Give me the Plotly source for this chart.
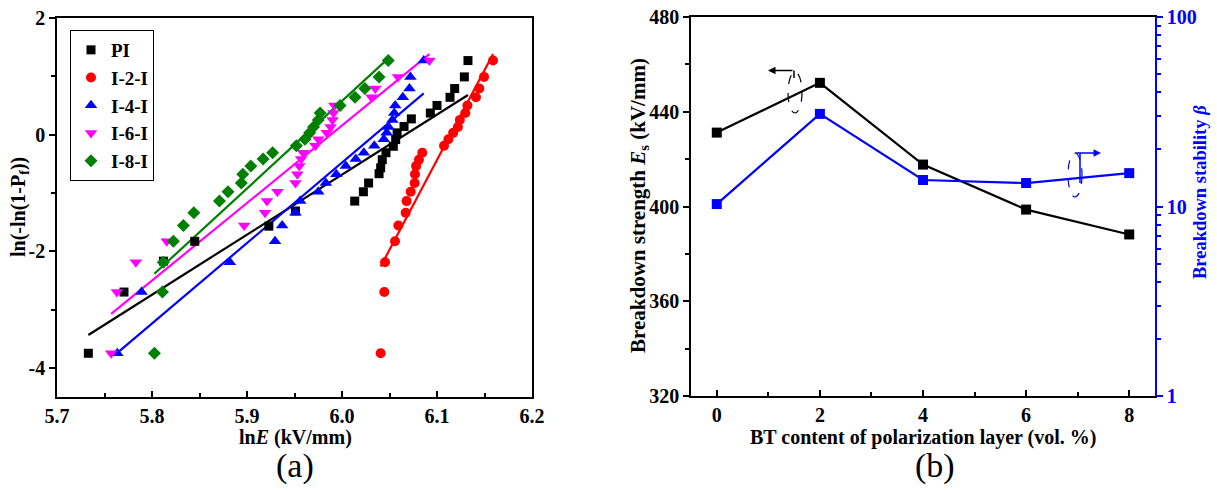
import numpy as np
import plotly.graph_objects as go

# ---------------- data: panel (a) Weibull plot ----------------
series_names = ["PI", "I-2-I", "I-4-I", "I-6-I", "I-8-I"]

lnF_PI = [-3.75, -2.70, -2.17, -1.83, -1.57, -1.31, -1.14, -0.98, -0.83, -0.67, -0.57, -0.43,
          -0.31, -0.20, -0.085, 0.03, 0.14, 0.27, 0.37, 0.50, 0.64, 0.79, 0.99, 1.27]
lnE_PI = [5.733, 5.7705, 5.812, 5.845, 5.923, 5.951, 6.0134, 6.0225, 6.028, 6.039, 6.0407, 6.0424,
          6.0463, 6.054, 6.0565, 6.058, 6.0653, 6.073, 6.093, 6.100, 6.1137, 6.1186, 6.1288, 6.1326]

lnF_I2 = [-3.75, -2.70, -2.19, -1.83, -1.56, -1.34, -1.14, -0.98, -0.83, -0.68, -0.54, -0.43,
          -0.31, -0.19, -0.08, 0.03, 0.13, 0.25, 0.37, 0.50, 0.64, 0.79, 0.99, 1.27]
lnE_I2 = [6.0407, 6.0445, 6.0453, 6.0558, 6.0593, 6.067, 6.068, 6.0723, 6.0765, 6.0768, 6.078, 6.081,
          6.0845, 6.1074, 6.112, 6.117, 6.122, 6.124, 6.1298, 6.132, 6.141, 6.1445, 6.1495, 6.159]

lnF_I4 = [-3.75, -2.70, -2.19, -1.83, -1.56, -1.34, -1.14, -0.98, -0.83, -0.68, -0.54, -0.42,
          -0.31, -0.19, -0.08, 0.03, 0.13, 0.25, 0.37, 0.50, 0.64, 0.79, 0.99, 1.27]
lnE_I4 = [5.7635, 5.789, 5.882, 5.9295, 5.937, 5.951, 5.956, 5.975, 5.983, 5.994, 6.004, 6.0145,
          6.023, 6.034, 6.044, 6.047, 6.049, 6.053, 6.055, 6.056, 6.064, 6.071, 6.072, 6.086]

lnF_I6 = [-3.75, -2.70, -2.19, -1.83, -1.56, -1.34, -1.14, -0.98, -0.83, -0.68, -0.54, -0.42,
          -0.31, -0.19, -0.08, 0.03, 0.13, 0.25, 0.37, 0.50, 0.64, 0.79, 0.99, 1.27]
lnE_I6 = [5.757, 5.763, 5.783, 5.8155, 5.897, 5.919, 5.921, 5.932, 5.951, 5.953, 5.955, 5.957,
          5.959, 5.972, 5.975, 5.984, 5.988, 5.990, 5.991, 5.992, 6.031, 6.035, 6.059, 6.092]

lnF_I8 = [-3.75, -2.70, -2.19, -1.83, -1.56, -1.34, -1.14, -0.98, -0.83, -0.68, -0.54, -0.42,
          -0.31, -0.19, -0.08, 0.03, 0.13, 0.25, 0.37, 0.50, 0.64, 0.79, 0.99, 1.27]
lnE_I8 = [5.8025, 5.811, 5.812, 5.8225, 5.833, 5.844, 5.871, 5.880, 5.894, 5.8955, 5.904, 5.917,
          5.927, 5.952, 5.961, 5.966, 5.970, 5.975, 5.977, 5.998, 6.0137, 6.024, 6.039, 6.0487]

# ---------------- data: panel (b) ----------------
bt_content = [0, 2, 4, 6, 8]
Es = [431.2, 452.2, 417.7, 398.7, 388.2]      # kV/mm (Weibull scale)
beta = [10.3, 30.8, 13.8, 13.3, 15.0]         # Weibull shape

colors = ["#000000", "#ff0000", "#0000ff", "#ff00ff", "#008000"]
symbols = ["square", "circle", "triangle-up", "triangle-down", "diamond"]
sizes = [9, 10, 11, 11, 10]

xs = [lnE_PI, lnE_I2, lnE_I4, lnE_I6, lnE_I8]
ys = [lnF_PI, lnF_I2, lnF_I4, lnF_I6, lnF_I8]

FONT = "Liberation Serif"
W, H = 1217, 491

fig = go.Figure()

# fitted lines: y = beta * (lnE - ln Es)
for i in range(5):
    xx = np.array([min(xs[i]), max(xs[i])])
    yy = beta[i] * (xx - np.log(Es[i]))
    fig.add_trace(go.Scatter(x=xx, y=yy, mode="lines", line=dict(color=colors[i], width=2.2),
                             showlegend=False, hoverinfo="skip", xaxis="x", yaxis="y"))
for i in range(5):
    fig.add_trace(go.Scatter(x=xs[i], y=ys[i], mode="markers", name=series_names[i],
                             marker=dict(symbol=symbols[i], size=sizes[i], color=colors[i],
                                         line=dict(width=0)),
                             xaxis="x", yaxis="y"))

# panel (b)
fig.add_trace(go.Scatter(x=bt_content, y=Es, mode="lines+markers",
                         line=dict(color="black", width=2.2),
                         marker=dict(symbol="square", size=10, color="black"),
                         showlegend=False, xaxis="x2", yaxis="y2"))
fig.add_trace(go.Scatter(x=bt_content, y=beta, mode="lines+markers",
                         line=dict(color="#0000ff", width=2.2),
                         marker=dict(symbol="square", size=10, color="#0000ff"),
                         showlegend=False, xaxis="x2", yaxis="y3"))

def px_x(p):
    return p / W

def px_y(p):
    return (H - p) / H

def bold(lst):
    return ["<b>%s</b>" % s for s in lst]

TS = 20
tickfont = dict(family=FONT, size=TS, color="black", weight="bold")
axline = dict(showline=True, linecolor="black", linewidth=1.5, showgrid=False, zeroline=False,
              automargin=False)

fig.update_layout(
    template="none",
    width=W, height=H,
    margin=dict(l=0, r=0, t=0, b=0, pad=0),
    plot_bgcolor="white", paper_bgcolor="white",
    font=dict(family=FONT, color="black"),
    showlegend=True,
    legend=dict(x=px_x(70), y=px_y(30), xanchor="left", yanchor="top",
                bordercolor="black", borderwidth=1, bgcolor="white",
                font=dict(family=FONT, size=19, color="black", weight="bold"),
                itemwidth=30),
    xaxis=dict(domain=[px_x(57), px_x(532)], range=[5.7, 6.2], anchor="y",
               tickvals=[5.7, 5.8, 5.9, 6.0, 6.1, 6.2], ticktext=bold(["5.7", "5.8", "5.9", "6.0", "6.1", "6.2"]),
               ticks="inside", ticklen=6, tickwidth=1.5, tickcolor="black",
               minor=dict(ticks="inside", ticklen=4, tickwidth=1.5, tickcolor="black", dtick=0.05),
               mirror=True, tickfont=tickfont, **axline),
    yaxis=dict(domain=[px_y(397), px_y(18)], range=[-4.5, 2], anchor="x",
               tickvals=[-4, -2, 0, 2], ticktext=bold(["-4", "-2", "0", "2"]),
               ticks="outside", ticklen=6, tickwidth=1.5, tickcolor="black",
               minor=dict(ticks="outside", ticklen=4, tickwidth=1.5, tickcolor="black", dtick=1),
               mirror=True, tickfont=tickfont, **axline),
    xaxis2=dict(domain=[px_x(691), px_x(1155)], range=[-0.5, 8.5], anchor="y2",
                tickvals=[0, 2, 4, 6, 8], ticktext=bold(["0", "2", "4", "6", "8"]),
                ticks="inside", ticklen=6, tickwidth=1.5, tickcolor="black",
                minor=dict(ticks="inside", ticklen=4, tickwidth=1.5, tickcolor="black", dtick=1),
                mirror=True, tickfont=tickfont, **axline),
    yaxis2=dict(domain=[px_y(396), px_y(17)], range=[320, 480], anchor="x2",
                tickvals=[320, 360, 400, 440, 480], ticktext=bold(["320", "360", "400", "440", "480"]),
                ticks="outside", ticklen=6, tickwidth=1.5, tickcolor="black",
                minor=dict(ticks="outside", ticklen=4, tickwidth=1.5, tickcolor="black", dtick=20),
                tickfont=tickfont, **axline),
    yaxis3=dict(type="log", range=[0, 2], overlaying="y2", side="right", anchor="x2",
                tickvals=[1, 10, 100], ticktext=bold(["1", "10", "100"]),
                ticks="outside", ticklen=6, tickwidth=1.5, tickcolor="#0000ff",
                minor=dict(ticks="outside", ticklen=4, tickwidth=1.5, tickcolor="#0000ff", dtick="D1"),
                showline=True, linecolor="#0000ff", linewidth=1.5, showgrid=False, zeroline=False,
                automargin=False,
                tickfont=dict(family=FONT, size=TS, color="#0000ff", weight="bold")),
)

def txt(text, x, y, size, color="black", angle=0):
    return dict(text=text, x=px_x(x), y=px_y(y), xref="paper", yref="paper", showarrow=False,
                xanchor="center", yanchor="middle", textangle=angle,
                font=dict(family=FONT, size=size, color=color))

ann = [
    txt("<b>ln<i>E</i> (kV/mm)</b>", 295, 437, 20),
    txt("<b>ln(-ln(1-P<sub>f</sub>))</b>", 19, 207, 20, angle=-90),
    txt("<b>BT content of polarization layer (vol. %)</b>", 923, 437, 20),
    txt("<b>Breakdown strength <i>E</i><sub>s</sub> (kV/mm)</b>", 639, 206, 21, angle=-90),
    txt("<b>Breakdown stability <i>β</i></b>", 1200, 192, 18.5, color="#0000ff", angle=-90),
    txt("(a)", 295, 466, 34),
    txt("(b)", 935, 466, 34),
]
# indicator arrows (tail offset given in pixels)
ann.append(dict(x=px_x(768), y=px_y(70.5), ax=26, ay=0, xref="paper", yref="paper",
                axref="pixel", ayref="pixel", showarrow=True, arrowhead=2, arrowsize=1, arrowwidth=1.5,
                arrowcolor="black", text=""))
ann.append(dict(x=px_x(1101), y=px_y(153), ax=-27, ay=0, xref="paper", yref="paper",
                axref="pixel", ayref="pixel", showarrow=True, arrowhead=2, arrowsize=1, arrowwidth=1.5,
                arrowcolor="#0000ff", text=""))
fig.update_layout(annotations=ann)

shapes = [
    dict(type="circle", xref="paper", yref="paper", x0=px_x(788), x1=px_x(802), y0=px_y(113), y1=px_y(72),
         line=dict(color="black", width=1.2, dash="dash")),
    dict(type="line", xref="paper", yref="paper", x0=px_x(794), x1=px_x(794), y0=px_y(70.5), y1=px_y(78),
         line=dict(color="black", width=1.5)),
    dict(type="circle", xref="paper", yref="paper", x0=px_x(1068), x1=px_x(1082), y0=px_y(197), y1=px_y(153),
         line=dict(color="#0000ff", width=1.2, dash="dash")),
    dict(type="line", xref="paper", yref="paper", x0=px_x(1080), x1=px_x(1080), y0=px_y(153), y1=px_y(183),
         line=dict(color="#0000ff", width=1.5)),
]
fig.update_layout(shapes=shapes)

fig.write_html("out.html")
